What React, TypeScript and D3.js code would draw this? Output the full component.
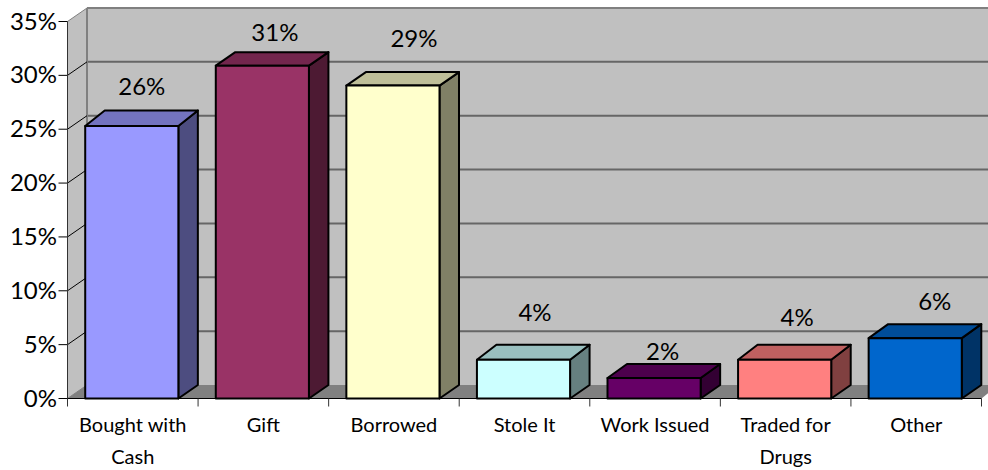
import React from "react";
import * as d3 from "d3";

const categories = ["Bought with|Cash", "Gift", "Borrowed", "Stole It", "Work Issued", "Traded for|Drugs", "Other"];
const barValues = [25.3, 30.9, 29.05, 3.6, 1.9, 3.6, 5.6];
const valueLabels = ["26%", "31%", "29%", "4%", "2%", "4%", "6%"];
const barColors = ["#9999FF", "#993366", "#FFFFCC", "#CCFFFF", "#660066", "#FF8080", "#0066CC"];
const yTicks = [0, 5, 10, 15, 20, 25, 30, 35];
const labelLift = [30.5, 25, 39, 38.5, 18.5, 33.5, 28];
const labelShift = [9, 11.5, 20, 10.5, 7.5, 11.5, 18.5];
const barRise = [15.5, 13.5, 13.5, 15, 14, 15, 14];

const W = 988, H = 470;
const FONT = "Lato, 'Open Sans', sans-serif";
const dx = 19.5, dy = -13.5;
const x0 = 67.5, xEnd = 981.5;
const y = d3.scaleLinear().domain([0, 35]).range([398.5, 21.5]);
const x = d3.scaleBand<string>().domain(categories).range([x0, xEnd]).paddingInner(0.279).paddingOuter(0.1395);
const step = (xEnd - x0) / categories.length;
const pts = (p: number[][]) => p.map((q) => q.join(",")).join(" ");
const shade = (c: string, k: number) => {
  const r = d3.rgb(c);
  return d3.rgb(r.r * k, r.g * k, r.b * k).formatHex();
};

export default function App() {
  const top = y(35), base = y(0);
  return (
    <svg width={W} height={H} viewBox={`0 0 ${W} ${H}`} style={{ position: "absolute", left: 0, top: 0, background: "#fff" }} fontFamily={FONT}>
      <polygon points={pts([[x0, base], [x0 + dx, base + dy], [x0 + dx, top + dy], [x0, top]])} fill="#C0C0C0" />
      <rect x={x0 + dx} y={top + dy} width={W - x0 - dx} height={base - top} fill="#C0C0C0" />
      <polygon points={pts([[x0, base], [x0 + dx, base + dy], [W + 10, base + dy], [xEnd, base]])} fill="#808080" />
      {yTicks.slice(1).map((t) => (
        <line key={t} x1={x0 + dx} x2={W} y1={y(t) + dy} y2={y(t) + dy} stroke={t === 35 ? "#808080" : "#666666"} strokeWidth={2} />
      ))}
      <line x1={x0 + dx} x2={x0 + dx} y1={top + dy} y2={base + dy} stroke="#808080" strokeWidth={2} />
      {yTicks.map((t) => (
        <g key={t}>
          <line x1={x0} x2={x0 + dx} y1={y(t)} y2={y(t) + dy} stroke={t === 35 || t === 0 ? "#808080" : "#000"} strokeWidth={1} />
          <line x1={x0 - 9} x2={x0} y1={y(t)} y2={y(t)} stroke="#000" strokeWidth={1} />
          <text x={57} y={y(t) + 8} textAnchor="end" fontSize={24} fill="#000">{t}%</text>
        </g>
      ))}
      <line x1={x0} x2={x0} y1={top} y2={base} stroke="#333" strokeWidth={1} />
      <line x1={x0} x2={xEnd} y1={base} y2={base} stroke="#000" strokeWidth={1} />
      {categories.map((_, i) => (
        <line key={i} x1={x0 + step * (i + 1)} x2={x0 + step * (i + 1)} y1={base} y2={base + 8} stroke="#333" strokeWidth={1} />
      ))}
      <line x1={x0} x2={x0} y1={base} y2={base + 8} stroke="#333" strokeWidth={1} />
      {categories.map((c, i) => {
        const bx = x(c)! - 0.5, bw = x.bandwidth() - 1, by = y(barValues[i]);
        const col = barColors[i];
        const rise = -barRise[i];
        return (
          <g key={c} stroke="#000" strokeWidth={2} strokeLinejoin="round">
            <polygon points={pts([[bx + bw, by], [bx + bw + dx, by + rise], [bx + bw + dx, base + dy], [bx + bw, base]])} fill={shade(col, 0.5)} />
            <polygon points={pts([[bx, by], [bx + dx, by + rise], [bx + bw + dx, by + rise], [bx + bw, by]])} fill={shade(col, 0.75)} />
            <rect x={bx} y={by} width={bw} height={base - by} fill={col} />
          </g>
        );
      })}
      {categories.map((c, i) => {
        const bx = x(c)!, bw = x.bandwidth();
        return (
          <text key={c} x={bx + bw / 2 + labelShift[i]} y={y(barValues[i]) - labelLift[i]} textAnchor="middle" fontSize={24} fill="#000">
            {valueLabels[i]}
          </text>
        );
      })}
      {categories.map((c) => {
        const cx = x(c)! + x.bandwidth() / 2;
        return c.split("|").map((line, j) => (
          <text key={line} x={cx} y={432 + j * 32} textAnchor="middle" fontSize={20} fill="#000">{line}</text>
        ));
      })}
    </svg>
  );
}
